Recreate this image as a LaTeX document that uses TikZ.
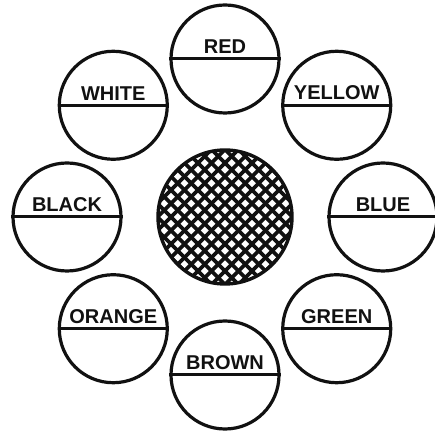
\documentclass[tikz,border=0pt]{standalone}
\usepackage{fontspec}
\setmainfont{Liberation Sans}
\usetikzlibrary{positioning}
\definecolor{InkBlack}{HTML}{111111}

\begin{document}
\begin{tikzpicture}[x=1pt,y=1pt,
    wire/.style={draw=InkBlack,circle,line width=3.2pt,minimum size=108pt,inner sep=0pt},
    tag/.style={anchor=south,inner sep=0pt,text=InkBlack,
                font=\fontsize{20}{20}\selectfont\bfseries}]
\useasboundingbox (0,0) rectangle (435,430);
\coordinate (hub) at (225,213);
% centre disc, cross-hatched
\begin{scope}[shift={(hub)}]
  \clip (0,0) circle[radius=67];
  \foreach \k in {-12,...,12}{
    \draw[InkBlack,line width=3.6pt] (\k*13.5-80,-80) -- ++(160,160);
    \draw[InkBlack,line width=3.6pt] (\k*13.5+80,-80) -- ++(-160,160);
  }
\end{scope}
\node[wire,minimum size=134pt,line width=3.4pt] (disc) at (hub) {};
% the eight colour discs
\foreach \ang/\name in {90/RED,45/YELLOW,0/BLUE,-45/GREEN,-90/BROWN,-135/ORANGE,180/BLACK,135/WHITE}{
  \node[wire] (\name) at ([shift={(\ang:158)}]hub) {};
  \draw[InkBlack,line width=3pt] (\name.west) -- (\name.east);
  \node[tag] (\name-tag) at ([yshift=5pt]\name.center) {\name};
}
\end{tikzpicture}
\end{document}
